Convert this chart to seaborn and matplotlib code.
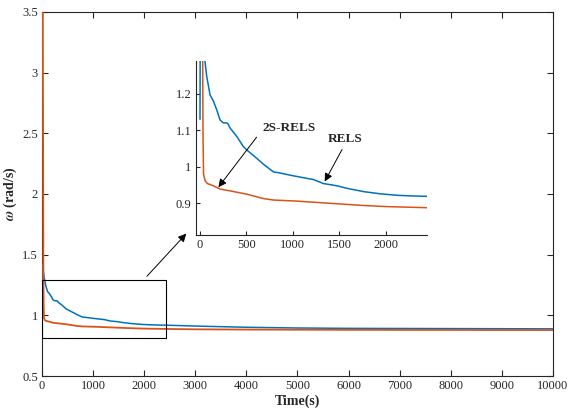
import matplotlib
matplotlib.use("Agg")
import matplotlib.pyplot as plt
import seaborn as sns
import pandas as pd
from matplotlib.patches import Rectangle

# RELS (blue)
rels_t = [0, 3, 20, 40, 55, 72, 108, 144, 180, 216, 252, 288, 300, 324, 396, 468, 504,
          612, 683, 791, 863, 971, 1115, 1223, 1331, 1475, 1583, 1763, 1942, 2122, 2302,
          2446, 3000, 4000, 5000, 6000, 7000, 8000, 9000, 10000]
rels_w = [1.13, 1.42, 1.38, 1.32, 1.285, 1.248, 1.197, 1.18, 1.156, 1.128, 1.12, 1.12,
          1.118, 1.106, 1.083, 1.055, 1.046, 1.023, 1.007, 0.986, 0.983, 0.977, 0.970,
          0.965, 0.954, 0.948, 0.941, 0.932, 0.926, 0.922, 0.920, 0.919, 0.912, 0.902,
          0.896, 0.893, 0.892, 0.891, 0.890, 0.889]

# 2S-RELS (orange)
srels_t = [0, 15, 24, 28, 32, 38, 55, 80, 144, 216, 324, 504, 683, 791, 1043, 1223, 1403,
           1583, 1763, 2014, 2446, 3000, 4000, 5000, 6000, 7000, 8000, 9000, 10000]
srels_w = [3.6, 3.6, 2.0, 1.35, 1.10, 0.98, 0.962, 0.954, 0.948, 0.939, 0.934, 0.925, 0.913,
           0.909, 0.906, 0.903, 0.900, 0.897, 0.894, 0.891, 0.888, 0.885, 0.883, 0.882,
           0.881, 0.880, 0.880, 0.879, 0.879]

main_xticks = [0, 1000, 2000, 3000, 4000, 5000, 6000, 7000, 8000, 9000, 10000]
main_yticks = [0.5, 1, 1.5, 2, 2.5, 3, 3.5]
main_yticklabels = ["0.5", "1", "1.5", "2", "2.5", "3", "3.5"]
inset_xticks = [0, 500, 1000, 1500, 2000]
inset_yticks = [0.9, 1.0, 1.1, 1.2]
inset_yticklabels = ["0.9", "1", "1.1", "1.2"]

BLUE = "#0072BD"
ORANGE = "#D95319"
AX = "#262626"

sns.set_style("ticks")
plt.rcParams["font.family"] = ["Liberation Serif", "DejaVu Serif"]
plt.rcParams["mathtext.fontset"] = "stix"
plt.rcParams["axes.edgecolor"] = AX
plt.rcParams["xtick.color"] = AX
plt.rcParams["ytick.color"] = AX
plt.rcParams["axes.linewidth"] = 0.8

df_r = pd.DataFrame({"t": rels_t, "w": rels_w})
df_s = pd.DataFrame({"t": srels_t, "w": srels_w})

fig = plt.figure(figsize=(5.69, 4.11), dpi=100)
ax = fig.add_axes([0.0738, 0.085, 0.898, 0.886])
sns.lineplot(data=df_r, x="t", y="w", ax=ax, color=BLUE, lw=1.1, estimator=None, sort=False, zorder=3)
sns.lineplot(data=df_s, x="t", y="w", ax=ax, color=ORANGE, lw=1.3, estimator=None, sort=False, zorder=3)
ax.set_xlim(0, 10000)
ax.set_ylim(0.5, 3.5)
ax.set_xticks(main_xticks)
ax.set_xticklabels([str(v) for v in main_xticks])
ax.set_yticks(main_yticks)
ax.set_yticklabels(main_yticklabels)
ax.tick_params(direction="in", top=True, right=True, labelsize=9, length=4, width=0.8, pad=3)
for s in ax.spines.values():
    s.set_visible(True)
    s.set_color(AX)
ax.set_xlabel("Time(s)", fontsize=10, fontweight="bold", labelpad=2)
ax.set_ylabel(r"$\boldsymbol{\omega}$ (rad/s)", fontsize=10, fontweight="bold", labelpad=2)

ax.add_patch(Rectangle((0, 0.81), 2432, 0.48, fill=False, ec="black", lw=0.8, zorder=5))
ax.annotate("", xy=(2860, 1.69), xytext=(2016, 1.305),
            arrowprops=dict(arrowstyle="-|>", color="black", lw=0.7, mutation_scale=12))

# inset
ins = fig.add_axes([0.344, 0.428, 0.406, 0.424])
sns.lineplot(data=df_r, x="t", y="w", ax=ins, color=BLUE, lw=1.1, estimator=None, sort=False)
sns.lineplot(data=df_s, x="t", y="w", ax=ins, color=ORANGE, lw=1.1, estimator=None, sort=False)
ins.set_xlim(-46, 2443)
ins.set_ylim(0.813, 1.29)
ins.set_xticks(inset_xticks)
ins.set_xticklabels([str(v) for v in inset_xticks])
ins.set_yticks(inset_yticks)
ins.set_yticklabels(inset_yticklabels)
ins.tick_params(direction="in", labelsize=9, length=3, width=0.8, pad=3)
ins.spines["top"].set_visible(False)
ins.spines["right"].set_visible(False)
ins.set_xlabel("")
ins.set_ylabel("")
ins.patch.set_alpha(0)

ins.annotate("", xy=(180, 0.938), xytext=(628, 1.087),
             arrowprops=dict(arrowstyle="-|>", color="black", lw=0.7, mutation_scale=12))
ins.text(959, 1.106, "2S-RELS", fontsize=9.5, fontweight="bold", ha="center", va="center")
ins.annotate("", xy=(1329, 0.953), xytext=(1545, 1.054),
             arrowprops=dict(arrowstyle="-|>", color="black", lw=0.7, mutation_scale=12))
ins.text(1566, 1.076, "RELS", fontsize=9.5, fontweight="bold", ha="center", va="center")

fig.savefig("out.png", dpi=100)
